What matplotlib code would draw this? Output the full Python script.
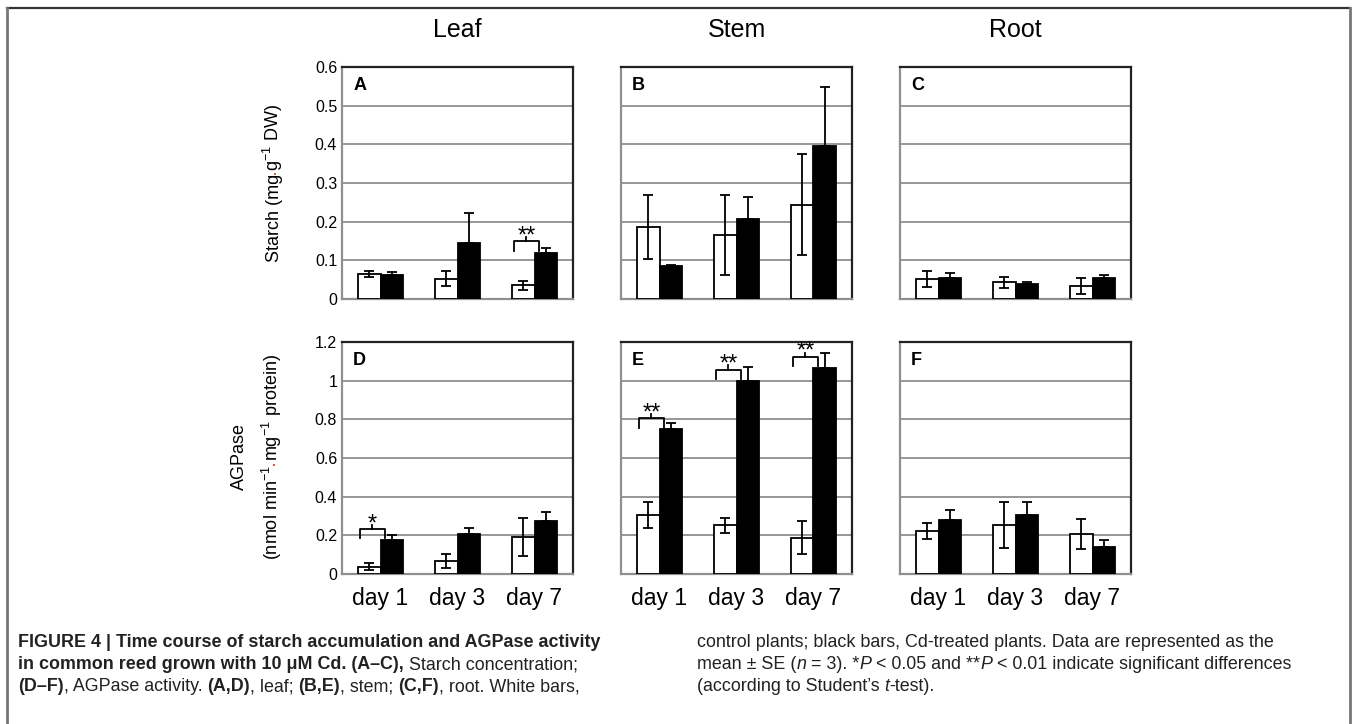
import matplotlib
matplotlib.use("Agg")
import matplotlib.pyplot as plt
from matplotlib.lines import Line2D
from matplotlib import font_manager
import numpy as np

plt.rcParams['font.family'] = ['Liberation Sans', 'DejaVu Sans']
plt.rcParams['mathtext.fontset'] = 'custom'
plt.rcParams['mathtext.rm'] = 'Liberation Sans'
plt.rcParams['mathtext.it'] = 'Liberation Sans:italic'
plt.rcParams['mathtext.bf'] = 'Liberation Sans:bold'

# ---- data ----
days = ['day 1', 'day 3', 'day 7']
organs = ['Leaf', 'Stem', 'Root']
panel_letters = [['A', 'B', 'C'], ['D', 'E', 'F']]

# starch, mg g-1 DW; rows = leaf, stem, root
starch_ctrl = [[0.064, 0.053, 0.035], [0.187, 0.166, 0.244], [0.052, 0.043, 0.034]]
starch_ctrl_se = [[0.008, 0.020, 0.011], [0.083, 0.104, 0.130], [0.021, 0.015, 0.021]]
starch_cd = [[0.062, 0.146, 0.120], [0.085, 0.208, 0.395], [0.055, 0.040, 0.054]]
starch_cd_se = [[0.009, 0.077, 0.011], [0.003, 0.057, 0.154], [0.012, 0.003, 0.009]]

# AGPase, nmol min-1 mg-1 protein
agp_ctrl = [[0.038, 0.067, 0.190], [0.305, 0.252, 0.188], [0.224, 0.253, 0.205]]
agp_ctrl_se = [[0.017, 0.038, 0.098], [0.069, 0.038, 0.086], [0.042, 0.117, 0.078]]
agp_cd = [[0.176, 0.207, 0.276], [0.748, 1.000, 1.066], [0.278, 0.307, 0.140]]
agp_cd_se = [[0.027, 0.029, 0.046], [0.035, 0.072, 0.076], [0.053, 0.064, 0.035]]

# (organ index, day index, label)
starch_sig = [(0, 2, '**')]
agp_sig = [(0, 0, '*'), (1, 0, '**'), (1, 1, '**'), (1, 2, '**')]

starch_ticks = [0, 0.1, 0.2, 0.3, 0.4, 0.5, 0.6]
starch_ticklabels = ['0', '0.1', '0.2', '0.3', '0.4', '0.5', '0.6']
agp_ticks = [0, 0.2, 0.4, 0.6, 0.8, 1.0, 1.2]
agp_ticklabels = ['0', '0.2', '0.4', '0.6', '0.8', '1', '1.2']

W, H = 1357, 724
fig = plt.figure(figsize=(W / 100, H / 100), dpi=100)
renderer = fig.canvas.get_renderer()

lefts = [342, 621, 900]
tops = [67, 342]
pw, ph = 231, 232
bw = 0.29
grid_col = '#8f8f8f'


def px_axes(l, t):
    return fig.add_axes([l / W, 1 - (t + ph) / H, pw / W, ph / H])


def draw_panel(ax, ctrl, ctrl_se, cd, cd_se, ymax, sigs, letter):
    x = np.arange(len(days))
    ax.bar(x - bw / 2, ctrl, bw, color='white', edgecolor='black', lw=1.3, zorder=3)
    ax.errorbar(x - bw / 2, ctrl, yerr=ctrl_se, fmt='none', ecolor='black',
                elinewidth=1.3, capsize=3.5, capthick=1.3, zorder=4)
    ax.bar(x + bw / 2, cd, bw, color='black', edgecolor='black', lw=1.3, zorder=3)
    ax.errorbar(x + bw / 2, cd, yerr=[np.zeros(len(cd)), cd_se], fmt='none', ecolor='black',
                elinewidth=1.3, capsize=3.5, capthick=1.3, zorder=4)
    ax.set_xlim(-0.5, 2.5)
    ax.set_ylim(0, ymax)
    ax.yaxis.grid(True, color=grid_col, lw=1.3)
    ax.set_axisbelow(True)
    ax.tick_params(length=0)
    for s in ['top', 'right']:
        ax.spines[s].set_color('#222222')
        ax.spines[s].set_linewidth(1.6)
    for s in ['left', 'bottom']:
        ax.spines[s].set_color(grid_col)
        ax.spines[s].set_linewidth(1.6)
    ax.text(0.048, 0.922, letter, transform=ax.transAxes, fontsize=13,
            fontweight='bold', ha='left', va='center')
    # significance braces, sitting just above the treated bar
    for d, lab in sigs:
        y0 = cd[d] + 0.008 * ymax
        y1 = y0 + 0.04 * ymax
        x0 = d - 0.27
        x1 = d + 0.06
        xm = (x0 + x1) / 2
        ax.plot([x0, x0, x1, x1], [y0, y1, y1, y0], color='black', lw=1.3, zorder=5)
        ax.plot([xm, xm], [y1, y1 + 0.018 * ymax], color='black', lw=1.3, zorder=5)
        ax.annotate(lab, (xm, y1), xytext=(0, -4.5), textcoords='offset points',
                    ha='center', va='bottom', fontsize=17, zorder=6)


for j in range(3):
    ax = px_axes(lefts[j], tops[0])
    draw_panel(ax, starch_ctrl[j], starch_ctrl_se[j], starch_cd[j], starch_cd_se[j], 0.6,
               [(d, lab) for o, d, lab in starch_sig if o == j], panel_letters[0][j])
    ax.set_xticks(np.arange(3))
    ax.set_xticklabels([])
    ax.set_yticks(starch_ticks)
    ax.set_yticklabels(starch_ticklabels if j == 0 else [], fontsize=11.5)
    ax.tick_params(axis='y', pad=3.5)

    ax = px_axes(lefts[j], tops[1])
    draw_panel(ax, agp_ctrl[j], agp_ctrl_se[j], agp_cd[j], agp_cd_se[j], 1.2,
               [(d, lab) for o, d, lab in agp_sig if o == j], panel_letters[1][j])
    ax.set_xticks(np.arange(3))
    ax.set_xticklabels(days, fontsize=16.5)
    ax.tick_params(axis='x', pad=9)
    ax.set_yticks(agp_ticks)
    ax.set_yticklabels(agp_ticklabels if j == 0 else [], fontsize=11.5)
    ax.tick_params(axis='y', pad=3.5)

    fig.text((lefts[j] + pw / 2) / W, 1 - 30 / H, organs[j], fontsize=18,
             ha='center', va='center')


def rich_vertical(xb_px, yc_px, parts, size):
    texts = []
    for txt, col, trim in parts:
        t = fig.text(xb_px / W, 0, txt, rotation=90, rotation_mode='anchor',
                     fontsize=size, color=col, ha='left', va='baseline')
        texts.append((t, trim))
    hs = [t.get_window_extent(renderer).height - trim for t, trim in texts]
    y = (H - yc_px) - sum(hs) / 2
    for (t, trim), h in zip(texts, hs):
        t.set_y(y / H)
        y += h


red = '#e8302a'
rich_vertical(279, 183, [('Starch (mg', 'black', 0), ('·', red, 2.5),
                         ('g$^{-1}$ DW)', 'black', 0)], 13)
rich_vertical(244, 457, [('AGPase', 'black', 0)], 13)
rich_vertical(278, 457, [('(nmol min$^{-1}$', 'black', 0), ('·', red, 2.5),
                         ('mg$^{-1}$ protein)', 'black', 0)], 13)

# ---- caption ----
avail = {f.name for f in font_manager.fontManager.ttflist}
cap_font = ['Liberation Sans Narrow'] if 'Liberation Sans Narrow' in avail else ['Liberation Sans']
cap_size = 12.9


def text_w(s, weight='normal', style='normal'):
    t = fig.text(0, 0, s, fontsize=cap_size, fontweight=weight, fontstyle=style, family=cap_font)
    w = t.get_window_extent(renderer).width
    t.remove()
    return w


space_w = text_w('a a') - text_w('aa')


def rich_line(x_px, y_px, parts):
    x = x_px
    for txt, weight, style in parts:
        lead = len(txt) - len(txt.lstrip(' '))
        trail = len(txt) - len(txt.rstrip(' '))
        core = txt.strip(' ')
        x += lead * space_w
        t = fig.text(x / W, 1 - y_px / H, core, fontsize=cap_size, fontweight=weight,
                     fontstyle=style, family=cap_font, ha='left', va='baseline', color='#222222')
        x += t.get_window_extent(renderer).width + trail * space_w


B, N, I = 'bold', 'normal', 'italic'
rich_line(18, 647, [('FIGURE 4 | Time course of starch accumulation and AGPase activity', B, N)])
rich_line(18, 669, [('in common reed grown with 10 μM Cd. (A–C),', B, N),
                    (' Starch concentration;', N, N)])
rich_line(18, 691, [('(D–F)', B, N), (', AGPase activity. ', N, N), ('(A,D)', B, N),
                    (', leaf; ', N, N), ('(B,E)', B, N), (', stem; ', N, N),
                    ('(C,F)', B, N), (', root. White bars,', N, N)])
rich_line(697, 647, [('control plants; black bars, Cd-treated plants. Data are represented as the', N, N)])
rich_line(697, 669, [('mean ± SE (', N, N), ('n', N, I), (' = 3). *', N, N), ('P', N, I),
                     (' < 0.05 and **', N, N), ('P', N, I),
                     (' < 0.01 indicate significant differences', N, N)])
rich_line(697, 691, [('(according to Student’s ', N, N), ('t', N, I), ('-test).', N, N)])

# outer frame
fig.add_artist(Line2D([7 / W, 1350 / W], [1 - 8 / H, 1 - 8 / H], transform=fig.transFigure,
                      color='#333333', lw=1.6))
fig.add_artist(Line2D([7 / W, 7 / W], [0, 1 - 8 / H], transform=fig.transFigure,
                      color='#777777', lw=2))
fig.add_artist(Line2D([1350 / W, 1350 / W], [0, 1 - 8 / H], transform=fig.transFigure,
                      color='#777777', lw=2))

fig.savefig('out.png', dpi=100)
